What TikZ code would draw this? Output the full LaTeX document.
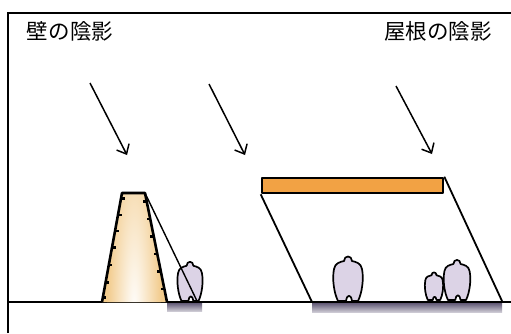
\documentclass[tikz,border=0pt]{standalone}
\usepackage{fontspec}
\usepackage{tikz}
\usetikzlibrary{positioning,arrows.meta,calc}
\newfontfamily\jpfont{Noto Sans CJK JP}
\definecolor{walltan}{HTML}{F2CB8C}
\definecolor{rooforange}{HTML}{F2A244}
\definecolor{walkerlilac}{HTML}{DCD3E6}
\definecolor{shadowgray}{HTML}{564D6C}

% a standing figure, base centre at the pic origin
\tikzset{pics/walker/.style={code={
  \filldraw[walkerlilac,draw=black,line width=1.7pt,line join=round]
    (-10,0) .. controls (-14,-8) and (-16,-22) .. (-14,-32)
    .. controls (-13,-38) and (-8,-39) .. (-4,-40)
    .. controls (-4,-46) and (4,-46) .. (4,-40)
    .. controls (8,-39) and (13,-38) .. (14,-32)
    .. controls (16,-22) and (14,-8) .. (10,0)
    -- (4,0) .. controls (3,-7) and (-1,-7) .. (-2,0) -- cycle;
}}}

\begin{document}
\begin{tikzpicture}[x=1pt,y=-1pt,font=\jpfont\fontsize{21.5}{25}\selectfont]
  \tikzstyle{ray}=[line width=1.5pt,-{Straight Barb[length=8pt,width=14pt]}]
  \tikzstyle{outline}=[line width=2.6pt,line join=round]
  \useasboundingbox (0,0) rectangle (511,333);
  \fill[white] (0,0) rectangle (511,333);

  % titles
  \node (walltitle) at (70,31) {壁の陰影};
  \node (rooftitle) at (438,31) {屋根の陰影};

  % sun rays
  \coordinate (r1a) at (90,83);   \coordinate (r1b) at (127,155);
  \coordinate (r2a) at (209,84);  \coordinate (r2b) at (245,155);
  \coordinate (r3a) at (396,86);  \coordinate (r3b) at (432,154);
  \draw[ray] (r1a) -- (r1b);
  \draw[ray] (r2a) -- (r2b);
  \draw[ray] (r3a) -- (r3b);

  % shade on the ground
  \shade[top color=shadowgray,bottom color=shadowgray!30] (167,302) rectangle (202,311);
  \shade[top color=shadowgray,bottom color=shadowgray!30] (312,302) rectangle (502,312);

  % frame and ground
  \draw[line width=2pt] (8,333) -- (8,13) -- (511,13);
  \draw[line width=2pt] (8,302) -- (511,302);

  % wall
  \coordinate (wbl) at (102,302);
  \coordinate (wtl) at (122,193);
  \coordinate (wtr) at (145,193);
  \coordinate (wbr) at (167,302);
  \begin{scope}
    \clip (wbl) -- (wtl) -- (wtr) -- (wbr) -- cycle;
    \fill[walltan] (wbl) -- (wtl) -- (wtr) -- (wbr) -- cycle;
    \shade[inner color=white,outer color=walltan] (134,318) ellipse (27 and 200);
  \end{scope}
  \draw[outline] (wbl) -- (wtl) -- (wtr) -- (wbr);
  \foreach \t in {0.05,0.2,0.35,0.5,0.66,0.82,0.96}
    \draw[line width=2.6pt] ($(wtl)!\t!(wbl)$) -- +(3.5,0);
  \foreach \t in {0.08,0.24,0.4,0.56,0.72,0.88}
    \draw[line width=2.6pt] ($(wtr)!\t!(wbr)$) -- +(-3.5,0);

  % figure behind the wall
  \pic[xscale=0.85,yscale=0.88] at (190,301) {walker};
  \coordinate (wshade) at (197,301);
  \draw[line width=1.4pt] (wtr) -- (wshade);

  % roof
  \node[draw,outline,fill=rooforange,minimum width=181pt,minimum height=15pt,inner sep=0pt] (roof) at (352.5,185.5) {};
  \coordinate (rshl) at (312,302);
  \coordinate (rshr) at (502,301);
  \draw[line width=1.8pt] (roof.south west) -- (rshl);
  \draw[line width=1.8pt] (roof.north east) -- (rshr);

  % figures under the roof
  \pic at (348,301) {walker};
  \pic[scale=0.9] at (457,300) {walker};
  \pic[scale=0.62] at (434,300) {walker};
\end{tikzpicture}
\end{document}
